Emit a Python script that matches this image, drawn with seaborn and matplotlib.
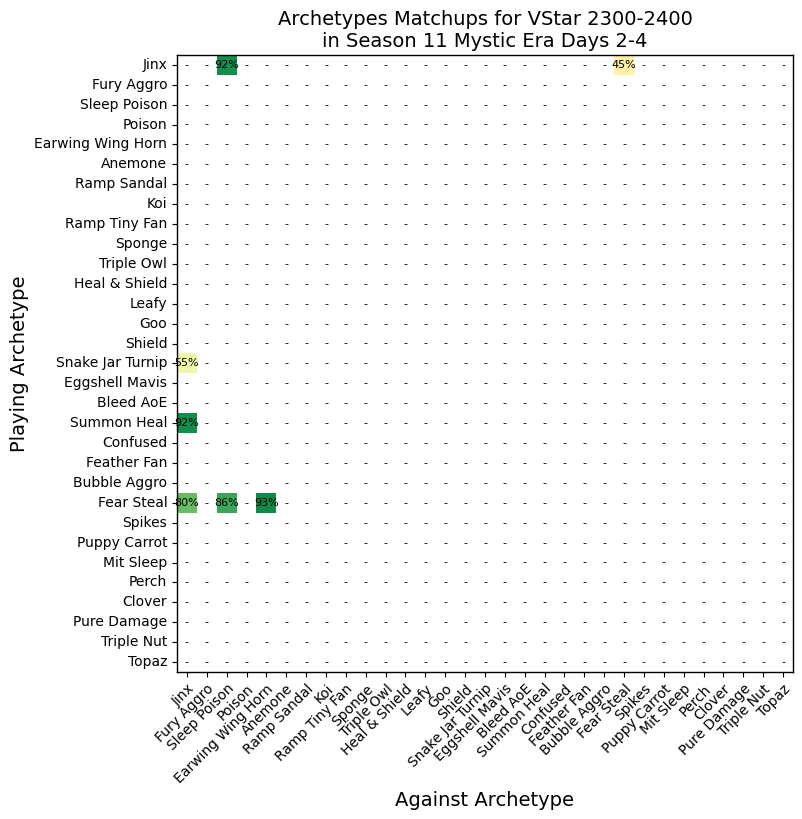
import numpy as np
import pandas as pd
import matplotlib
matplotlib.use("Agg")
import matplotlib.pyplot as plt
from matplotlib.colors import ListedColormap
import seaborn as sns

archetypes = ["Jinx", "Fury Aggro", "Sleep Poison", "Poison", "Earwing Wing Horn",
              "Anemone", "Ramp Sandal", "Koi", "Ramp Tiny Fan", "Sponge",
              "Triple Owl", "Heal & Shield", "Leafy", "Goo", "Shield",
              "Snake Jar Turnip", "Eggshell Mavis", "Bleed AoE", "Summon Heal",
              "Confused", "Feather Fan", "Bubble Aggro", "Fear Steal", "Spikes",
              "Puppy Carrot", "Mit Sleep", "Perch", "Clover", "Pure Damage",
              "Triple Nut", "Topaz"]

# known matchups: (playing, against, win rate)
playing = ["Jinx", "Jinx", "Snake Jar Turnip", "Summon Heal",
           "Fear Steal", "Fear Steal", "Fear Steal"]
against = ["Sleep Poison", "Fear Steal", "Jinx", "Jinx",
           "Jinx", "Sleep Poison", "Earwing Wing Horn"]
win_rate = [0.92, 0.454, 0.546, 0.92, 0.80, 0.857, 0.93]

matrix = pd.DataFrame(np.nan, index=archetypes, columns=archetypes)
for p, a, w in zip(playing, against, win_rate):
    matrix.loc[p, a] = w

labels = matrix.map(lambda v: "" if pd.isna(v) else f"{v:.0%}")
dashes = matrix.map(lambda v: "-" if pd.isna(v) else "")

fig = plt.figure(figsize=(8.03, 8.19), dpi=100)
ax = fig.add_axes([0.2204, 0.1795, 0.7671, 0.7535])

# background layer: white cells with a dash where there is no data
sns.heatmap(pd.DataFrame(0, index=archetypes, columns=archetypes),
            cmap=ListedColormap(["white"]), cbar=False,
            annot=dashes, fmt="", annot_kws={"fontsize": 8, "color": "black"},
            ax=ax)
sns.heatmap(matrix, cmap="RdYlGn", vmin=0, vmax=1, cbar=False,
            annot=labels, fmt="", annot_kws={"fontsize": 8, "color": "black"},
            ax=ax)

for s in ax.spines.values():
    s.set_visible(True)
    s.set_linewidth(1)

ax.set_xticks(np.arange(len(archetypes)) + 0.5)
ax.set_xticklabels(archetypes, rotation=45, ha="right", rotation_mode="anchor",
                   fontsize=10)
ax.set_yticks(np.arange(len(archetypes)) + 0.5)
ax.set_yticklabels(archetypes, rotation=0, fontsize=10)

ax.set_title("Archetypes Matchups for VStar 2300-2400\nin Season 11 Mystic Era Days 2-4",
             fontsize=14)
ax.set_xlabel("Against Archetype", fontsize=14)
ax.set_ylabel("Playing Archetype", fontsize=14)

fig.savefig("out.png", dpi=100)
